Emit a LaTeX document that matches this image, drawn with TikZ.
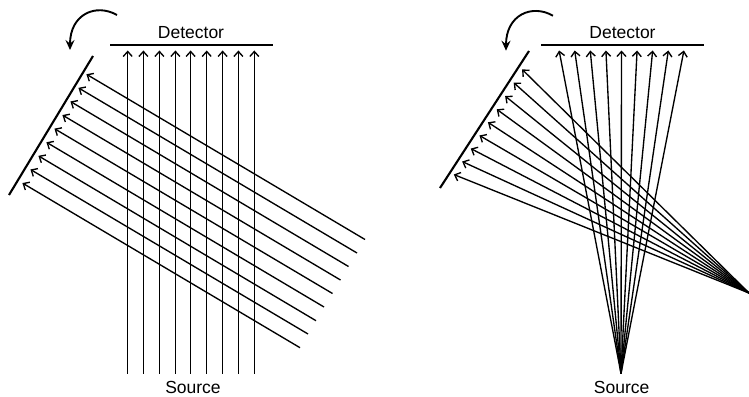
\documentclass[tikz,border=0pt]{standalone}
\usepackage{fontspec}
\setmainfont{Liberation Sans}
\usetikzlibrary{arrows.meta, positioning}

\begin{document}
\begin{tikzpicture}[
    x=1pt, y=-1pt,
    % beams and plates
    ray/.style={-{Straight Barb[length=5pt,width=9pt]}, line width=1.35pt, shorten >=0.5pt},
    plate/.style={line width=2.1pt},
    turn/.style={-{Stealth[length=10pt,width=9pt,inset=3.5pt]}, line width=1.9pt},
    label/.style={inner sep=0pt, font=\fontsize{17.5}{17.5}\selectfont}
]
\useasboundingbox (0,0) rectangle (749,396);

% Parallel beam
\node (detectorA) [label] at (191,32.5) {Detector};
\node (sourceA) [label] at (193,387.2) {Source};
\coordinate (detLA) at (110,44.8);
\coordinate (detRA) at (273,44.8);
\coordinate (mirA) at (9,195);
\coordinate (mirB) at (93,56);
\draw [plate] (detLA) -- (detRA);
\draw [plate] (mirA) -- (mirB);

% Source to detector
\foreach \i/\x in {1/127.7, 2/143.4, 3/159.4, 4/175.4, 5/190.6, 6/206.7, 7/222.6, 8/238.4, 9/254.3} {
    \coordinate (inA\i) at (\x,373.5);
    \coordinate (upA\i) at (\x,50);
    \draw [ray] (inA\i) -- (upA\i);
}

% Sample to mirror
\foreach \i/\x/\y/\u/\v in {1/365/239.5/86/74, 2/357/253/78/87.6, 3/348.5/266.5/70/101.2, 4/340.5/280/62/114.8, 5/332.5/293.5/54/128.4, 6/324/307/46/142, 7/316/320.7/38/155.6, 8/308/334/30/169.2, 9/300/347.7/22/182.8} {
    \coordinate (outA\i) at (\x,\y);
    \coordinate (tipA\i) at (\u,\v);
    \draw [ray] (outA\i) -- (tipA\i);
}

\coordinate (turnA) at (117,15);
\coordinate (turnB) at (70,50);
\draw [turn] (turnA) .. controls (96,3) and (70,14) .. (turnB);

% Fan beam
\node (detectorB) [label] at (622.5,32.5) {Detector};
\node (sourceB) [label] at (621.7,387.2) {Source};
\coordinate (detLB) at (541,44.8);
\coordinate (detRB) at (704,44.8);
\coordinate (mirC) at (440,188);
\coordinate (mirD) at (529,51);
\coordinate (focusS) at (621,373.5);
\coordinate (focusR) at (749,293);
\draw [plate] (detLB) -- (detRB);
\draw [plate] (mirC) -- (mirD);

% Source to detector
\foreach \i/\x in {1/559, 2/574.6, 3/590.2, 4/605.9, 5/621.5, 6/637.1, 7/652.7, 8/668.4, 9/684} {
    \coordinate (upB\i) at (\x,50);
    \draw [ray] (focusS) -- (upB\i);
}

% Focus to mirror
\foreach \i/\u/\v in {1/521.7/69, 2/513.3/82.3, 3/504.7/95.7, 4/496.3/109, 5/487.5/122, 6/479/135.2, 7/470.3/148.3, 8/461.7/161.3, 9/453.3/174.3} {
    \coordinate (tipB\i) at (\u,\v);
    \draw [ray] (focusR) -- (tipB\i);
}

\coordinate (turnC) at (553,15.7);
\coordinate (turnD) at (506,50.7);
\draw [turn] (turnC) .. controls (532,3.7) and (506,14.7) .. (turnD);

\end{tikzpicture}
\end{document}
